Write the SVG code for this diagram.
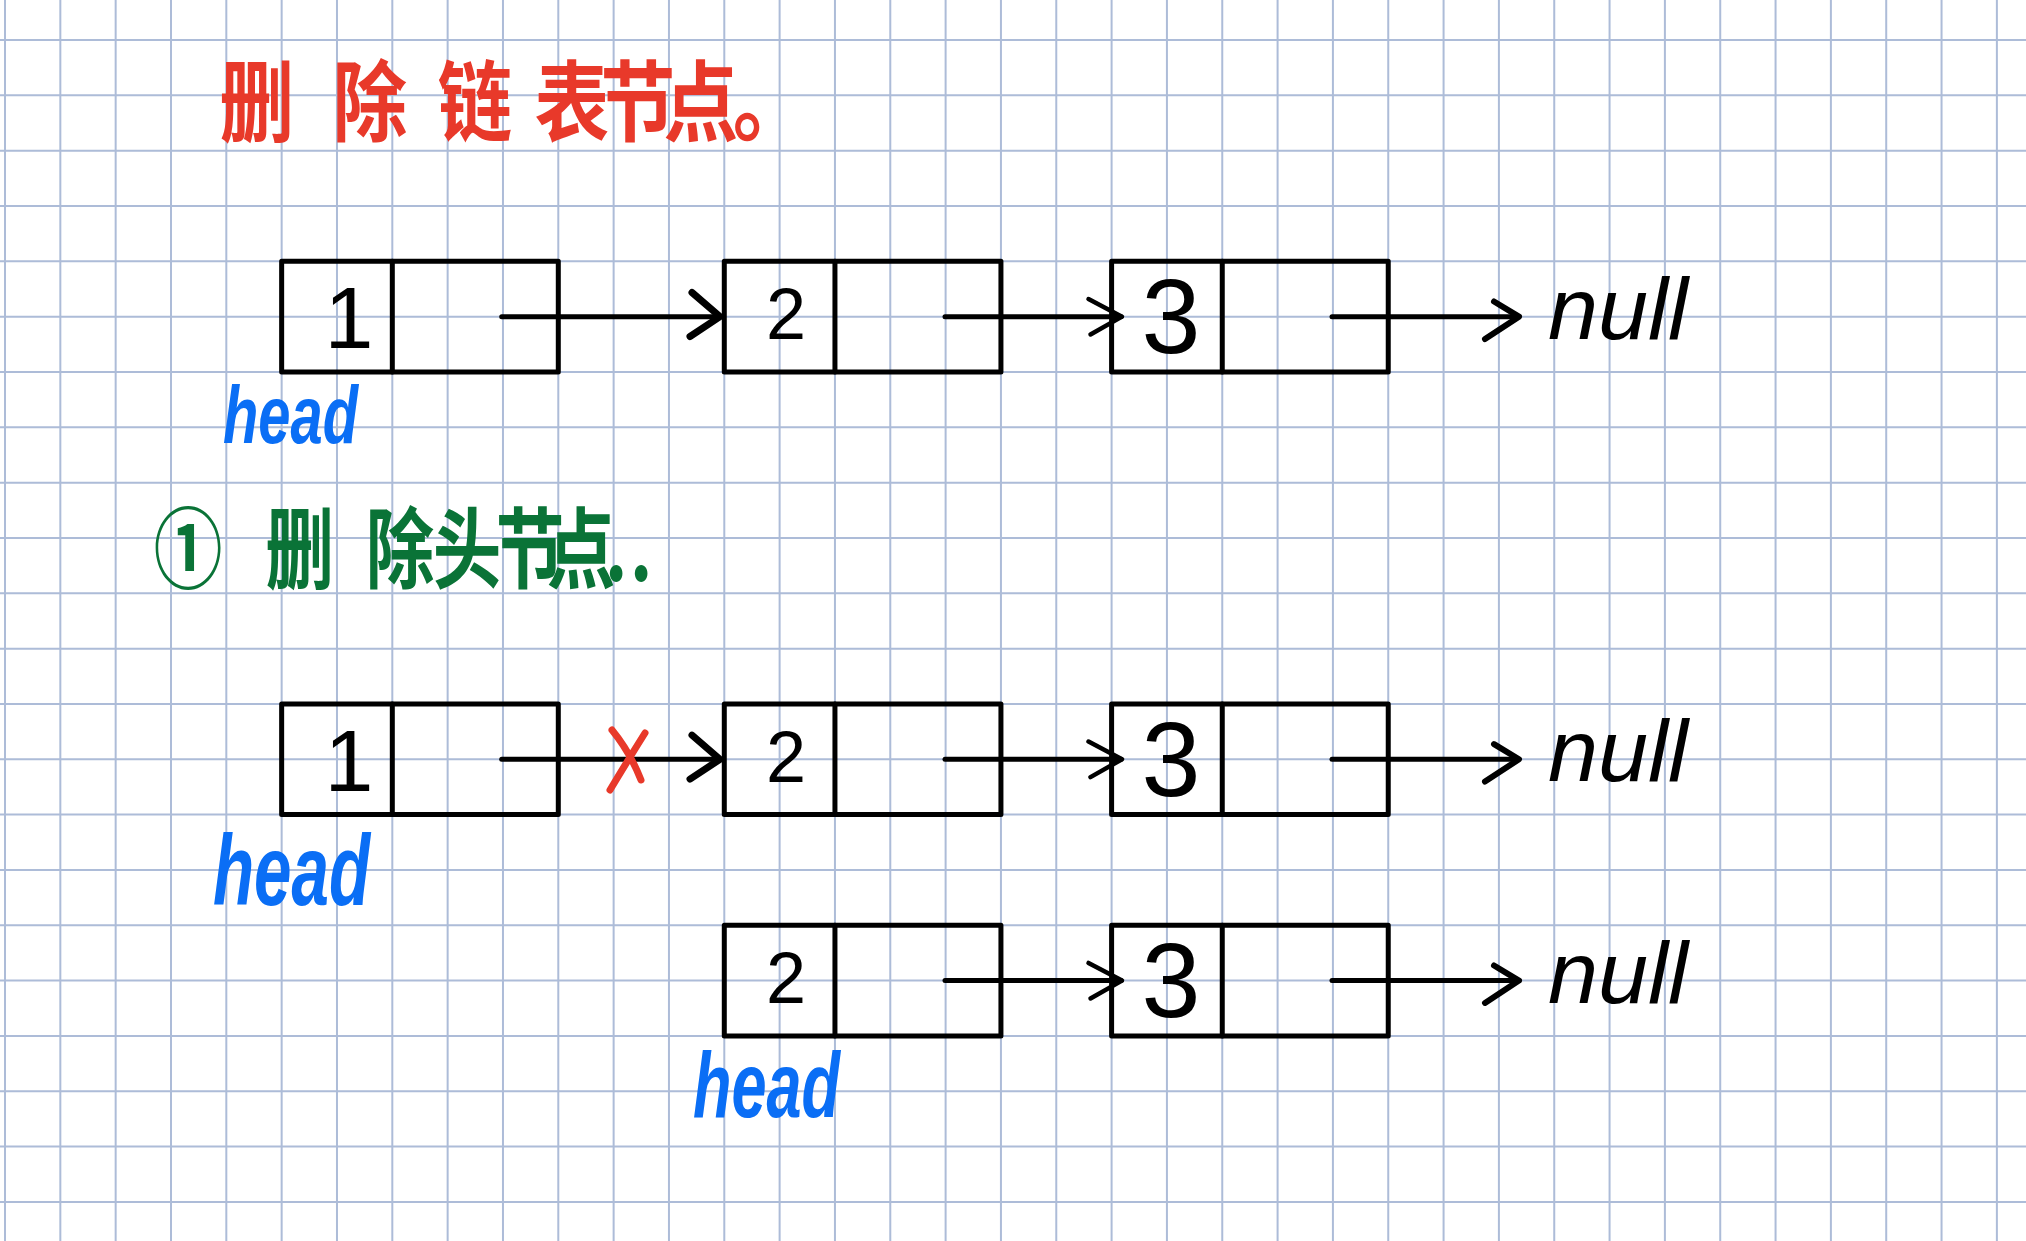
<svg xmlns="http://www.w3.org/2000/svg" xmlns:xlink="http://www.w3.org/1999/xlink" width="2026" height="1241" viewBox="0 0 2026 1241">
<style>
.grid{fill:none;stroke:#adbcd8;stroke-width:2}
.box{fill:none;stroke:#000;stroke-width:5;stroke-linejoin:round;stroke-linecap:round}
.digit{font-family:"Liberation Sans",Arial,sans-serif;fill:#000;text-anchor:middle}
.link{fill:none;stroke:#000;stroke-width:5;stroke-linecap:round;stroke-linejoin:round}
.tip{fill:none;stroke:#000;stroke-linecap:round;stroke-linejoin:round}
.head{font-family:"Liberation Sans",Arial,sans-serif;font-style:italic;font-weight:bold;fill:#0a6ef5}
.null{font-family:"Liberation Sans",Arial,sans-serif;font-style:italic;fill:#000;font-size:88px}
.red{font-family:"Noto Sans CJK SC",sans-serif;font-weight:700;fill:#e8392a;font-size:88px}
.green{font-family:"Noto Sans CJK SC",sans-serif;font-weight:700;fill:#0a7337;font-size:88px}
.cut{fill:none;stroke:#e8392a;stroke-width:7;stroke-linecap:round;stroke-linejoin:round}
</style>
<defs>
<g id="nodeShape">
<rect class="box" x="0" y="0" width="276.65" height="110.66"/>
<line class="box" x1="110.66" y1="0" x2="110.66" y2="110.66"/>
</g>
</defs>
<rect width="2026" height="1241" fill="#fff"/>
<g id="grid">
<path class="grid" d="M5 0V1241M60.33 0V1241M115.66 0V1241M171 0V1241M226.32 0V1241M281.65 0V1241M336.98 0V1241M392.31 0V1241M447.64 0V1241M502.97 0V1241M558.3 0V1241M613.63 0V1241M668.96 0V1241M724.29 0V1241M779.62 0V1241M834.95 0V1241M890.28 0V1241M945.61 0V1241M1000.94 0V1241M1056.27 0V1241M1111.6 0V1241M1166.93 0V1241M1222.26 0V1241M1277.59 0V1241M1332.92 0V1241M1388.25 0V1241M1443.58 0V1241M1498.91 0V1241M1554.24 0V1241M1609.57 0V1241M1664.9 0V1241M1720.23 0V1241M1775.56 0V1241M1830.89 0V1241M1886.22 0V1241M1941.55 0V1241M1996.88 0V1241"/>
<path class="grid" d="M0 40H2026M0 95.33H2026M0 150.66H2026M0 206H2026M0 261.32H2026M0 316.65H2026M0 371.98H2026M0 427.31H2026M0 482.64H2026M0 537.97H2026M0 593.3H2026M0 648.63H2026M0 703.96H2026M0 759.29H2026M0 814.62H2026M0 869.95H2026M0 925.28H2026M0 980.61H2026M0 1035.94H2026M0 1091.27H2026M0 1146.6H2026M0 1201.93H2026"/>
</g>
<g id="title">
<text class="red" transform="scale(0.85 1)" x="258 391.3 514.8 628.9 706.6 780.7 862" y="134">删除链表节点。</text>
</g>
<g id="step1">
<text class="green" transform="scale(0.78 1)" x="197.1 340 468.8 554.7 635.5 700.9 775.6 807.7" y="581">①删除头节点..</text>
</g>
<g id="r1-n1"><use xlink:href="#nodeShape" x="281.65" y="261.32"/><text class="digit" x="349" y="348" font-size="88">1</text></g>
<g id="r1-n2"><use xlink:href="#nodeShape" x="724.29" y="261.32"/><text class="digit" x="786" y="339" font-size="72">2</text></g>
<g id="r1-n3"><use xlink:href="#nodeShape" x="1111.6" y="261.32"/><text class="digit" x="1171" y="353" font-size="106">3</text></g>
<g id="r1-null"><text class="null" x="1548" y="338.5" textLength="140" lengthAdjust="spacingAndGlyphs">null</text></g>
<g id="r1-head"><text class="head" x="223" y="443" font-size="82" textLength="135" lengthAdjust="spacingAndGlyphs">head</text></g>
<g id="r2-n1"><use xlink:href="#nodeShape" x="281.65" y="703.96"/><text class="digit" x="349" y="790.6" font-size="88">1</text></g>
<g id="r2-n2"><use xlink:href="#nodeShape" x="724.29" y="703.96"/><text class="digit" x="786" y="781.6" font-size="72">2</text></g>
<g id="r2-n3"><use xlink:href="#nodeShape" x="1111.6" y="703.96"/><text class="digit" x="1171" y="795.6" font-size="106">3</text></g>
<g id="r2-null"><text class="null" x="1548" y="781.1" textLength="140" lengthAdjust="spacingAndGlyphs">null</text></g>
<g id="r2-head"><text class="head" x="213" y="905" font-size="100" textLength="157" lengthAdjust="spacingAndGlyphs">head</text></g>
<g id="r3-n2"><use xlink:href="#nodeShape" x="724.29" y="925.28"/><text class="digit" x="786" y="1003" font-size="72">2</text></g>
<g id="r3-n3"><use xlink:href="#nodeShape" x="1111.6" y="925.28"/><text class="digit" x="1171" y="1017" font-size="106">3</text></g>
<g id="r3-null"><text class="null" x="1548" y="1002.5" textLength="140" lengthAdjust="spacingAndGlyphs">null</text></g>
<g id="r3-head"><text class="head" x="693" y="1117" font-size="92" textLength="147" lengthAdjust="spacingAndGlyphs">head</text></g>
<g id="connectors">
<path class="link" d="M501.7 316.65H719"/>
<path class="tip" stroke-width="7" d="M692 292.5L720 316.65L690 336.5"/>
<path class="link" d="M945 316.65H1121"/>
<path class="tip" stroke-width="4.5" d="M1088.5 299L1122 316.65L1090.5 334.5"/>
<path class="link" d="M1332 316.65H1517"/>
<path class="tip" stroke-width="6" d="M1494 301.5L1519 316.65L1485 339"/>
<path class="link" d="M501.7 759.29H719"/>
<path class="tip" stroke-width="7" d="M692 735.1L720 759.29L690 779.1"/>
<path class="link" d="M945 759.29H1121"/>
<path class="tip" stroke-width="4.5" d="M1088.5 741.6L1122 759.29L1090.5 777.1"/>
<path class="link" d="M1332 759.29H1517"/>
<path class="tip" stroke-width="6" d="M1494 744.1L1519 759.29L1485 781.6"/>
<path class="link" d="M945 980.61H1121"/>
<path class="tip" stroke-width="4.5" d="M1088.5 962.96L1122 980.61L1090.5 998.46"/>
<path class="link" d="M1332 980.61H1517"/>
<path class="tip" stroke-width="6" d="M1494 965.46L1519 980.61L1485 1002.96"/>
<path class="cut" d="M612 730Q630 752 641 780M645 733Q628 760 610 790"/>
</g>
</svg>
